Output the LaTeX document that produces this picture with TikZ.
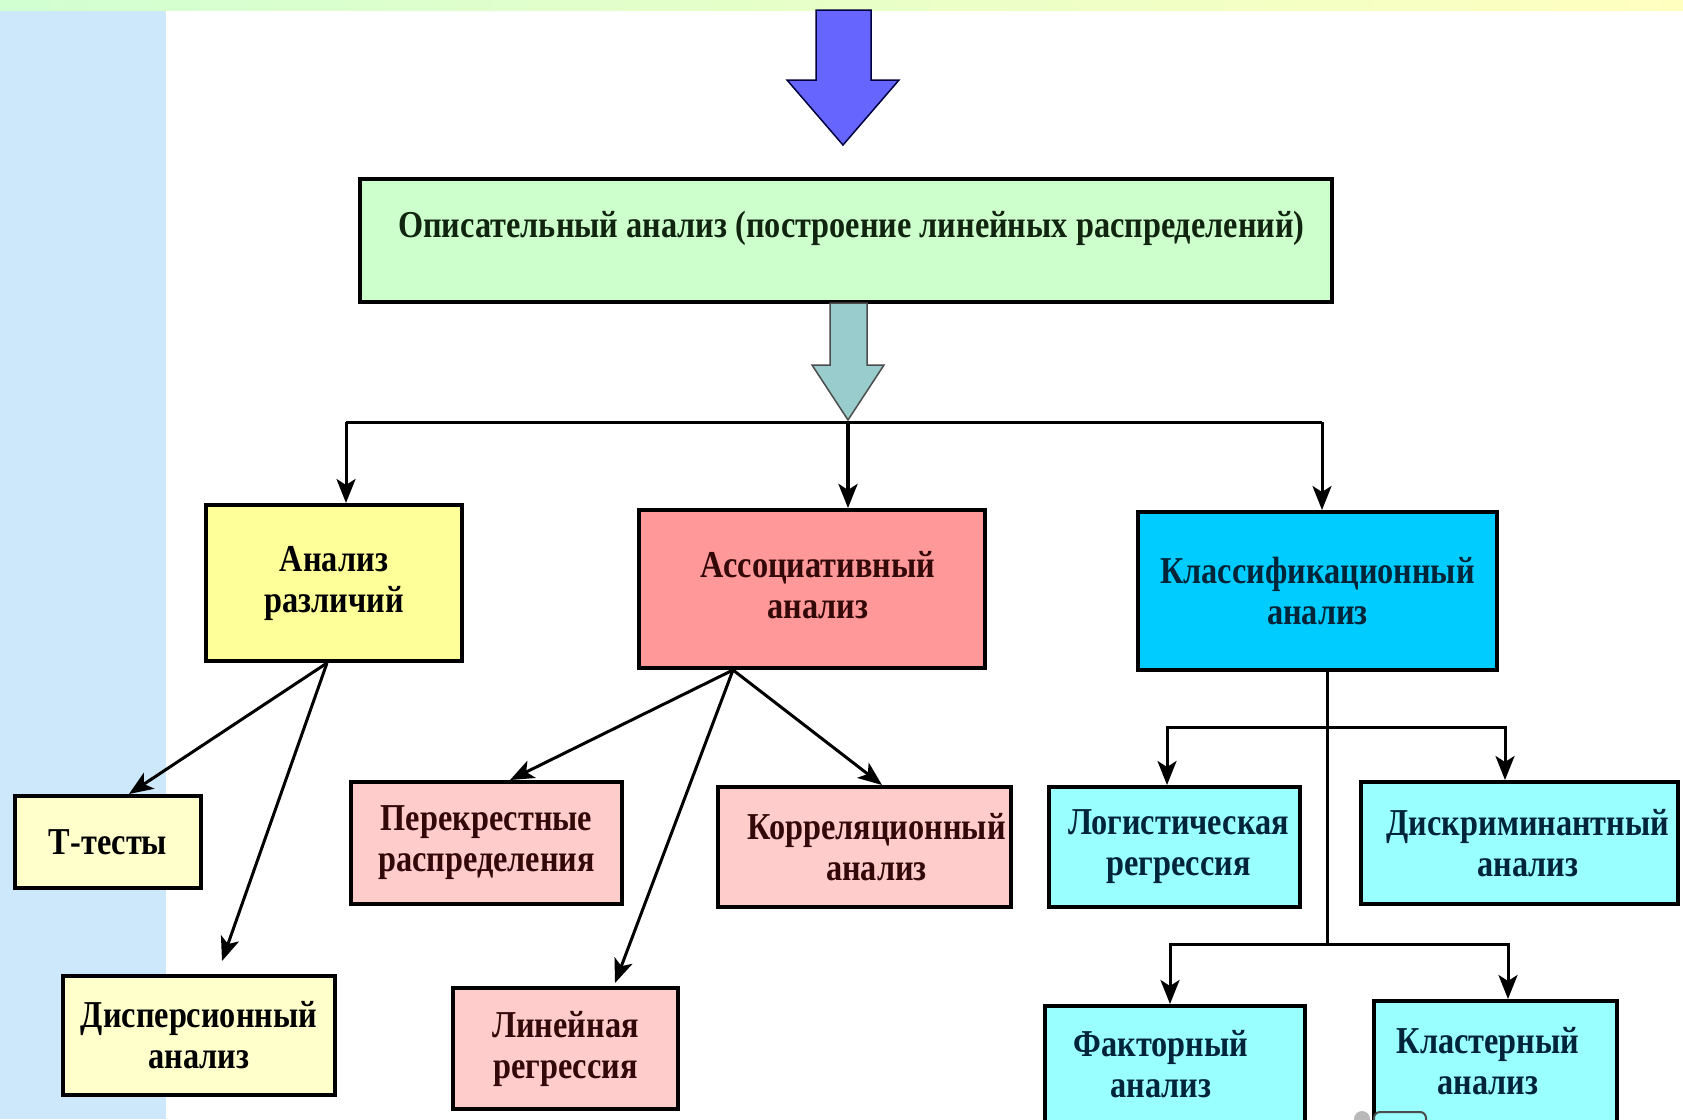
\documentclass[tikz,border=0pt]{standalone}
\usepackage{fontspec}
\setmainfont{Liberation Serif}[FakeStretch=0.85]
\usetikzlibrary{arrows.meta,calc}
\definecolor{bandblue}{HTML}{CCE8FA}
\definecolor{mainfill}{HTML}{CCFFCC}
\definecolor{yel}{HTML}{FFFF99}
\definecolor{redfill}{HTML}{FF9999}
\definecolor{cyfill}{HTML}{00CCFF}
\definecolor{yelpale}{HTML}{FFFFCC}
\definecolor{pinkpale}{HTML}{FFCCCC}
\definecolor{cypale}{HTML}{99FFFF}
\definecolor{bluearr}{HTML}{6666FF}
\definecolor{tealarr}{HTML}{99CCCC}
\definecolor{txtgreen}{HTML}{102410}
\definecolor{txtred}{HTML}{330808}
\definecolor{txtblue}{HTML}{002438}
\tikzset{
  box/.style={draw=black, line width=4pt, inner sep=0pt, align=center,
    font=\bfseries\fontsize{38}{41}\selectfont},
  conn/.style={draw=black, line width=3pt},
  arr/.style={conn, -{Stealth[length=24pt,width=19pt,inset=6pt]}},
}
\begin{document}
\begin{tikzpicture}[x=1pt,y=-1pt]
\useasboundingbox (0,0) rectangle (1683,1119);
\fill[white] (0,0) rectangle (1683,1119);
\fill[bandblue] (0,0) rectangle (166,1119);
\shade[left color=green!18, right color=yellow!25] (0,0) rectangle (1683,10);

% block arrows
\filldraw[fill=bluearr, draw=blue!25!black, line width=1.5pt]
  (816,10) -- (871,10) -- (871,80) -- (899,80) -- (843,145) -- (787,80) -- (816,80) -- cycle;

% boxes
\node[box, fill=mainfill, text=txtgreen, minimum width=972, minimum height=123] (desc) at (846,240.5)
  {\raisebox{12pt}[\height][\depth]{\hspace*{11pt}Описательный анализ (построение линейных распределений)}};

\node[box, fill=yel, minimum width=256, minimum height=156] (diff) at (334,583) {Анализ\\различий};
\node[box, fill=redfill, text=txtred, minimum width=346, minimum height=158] (assoc) at (812,589)
  {\raisebox{4pt}[\height][\depth]{\hspace*{12pt}Ассоциативный}\\\raisebox{4pt}[\height][\depth]{\hspace*{12pt}анализ}};
\node[box, fill=cyfill, text=txtblue, minimum width=359, minimum height=158] (classif) at (1317.5,591) {Классификационный\\анализ};

\node[box, fill=yelpale, minimum width=186, minimum height=92] (ttest) at (108,842) {Т-тесты};
\node[box, fill=yelpale, minimum width=272, minimum height=119] (disp) at (199,1035.5) {Дисперсионный\\анализ};

\node[box, fill=pinkpale, text=txtred, minimum width=271, minimum height=122] (cross) at (486.5,843) {Перекрестные\\распределения};
\node[box, fill=pinkpale, text=txtred, minimum width=293, minimum height=120] (corr) at (864.5,847)
  {\hspace*{24pt}Корреляционный\\\hspace*{24pt}анализ};
\node[box, fill=pinkpale, text=txtred, minimum width=225, minimum height=121] (linreg) at (565.5,1048.5) {Линейная\\регрессия};

\node[box, fill=cypale, text=txtblue, minimum width=251, minimum height=120] (logit) at (1174.5,847)
  {\hspace*{8pt}Логистическая\\\hspace*{8pt}регрессия};
\node[box, fill=cypale, text=txtblue, minimum width=317, minimum height=122] (discr) at (1519.5,843)
  {\hspace*{17pt}Дискриминантный\\\hspace*{17pt}анализ};
\node[box, fill=cypale, text=txtblue, minimum width=260, minimum height=124] (factor) at (1175,1068)
  {\raisebox{4pt}[\height][\depth]{\hspace*{-28pt}Факторный}\\\raisebox{4pt}[\height][\depth]{\hspace*{-28pt}анализ}};
\node[box, fill=cypale, text=txtblue, minimum width=243, minimum height=129] (cluster) at (1495.5,1065.5)
  {\raisebox{4pt}[\height][\depth]{\hspace*{-15pt}Кластерный}\\\raisebox{4pt}[\height][\depth]{\hspace*{-15pt}анализ}};

% small object at the bottom edge
\fill[gray!55] (1362,1119) circle (8pt);
\draw[black!70, line width=2pt, fill=cypale, rounded corners=6pt] (1374,1112) rectangle (1426,1135);

% teal block arrow from the main box
\filldraw[fill=tealarr, draw=black!70, line width=1.5pt]
  (830,303) -- (867,303) -- (867,365) -- (884,365) -- (848,420) -- (812,365) -- (830,365) -- cycle;

% level 1 connectors
\coordinate (hub) at (848,422);
\coordinate (hubL) at (346,422);
\coordinate (hubR) at (1322,422);
\draw[conn] (hubL) -- (hubR);
\draw[arr] (hubL) -- ([xshift=12pt]diff.north);
\draw[arr, line width=4pt] (hub) -- ([xshift=36pt]assoc.north);
\draw[arr] (hubR) -- ([xshift=4.5pt]classif.north);

% differences
\draw[arr] ([xshift=-7pt]diff.south) -- ([xshift=21pt]ttest.north);
\draw[arr] ([xshift=-7pt]diff.south) -- ([xshift=23pt,yshift=13pt]disp.north);

% associative
\draw[arr] ([xshift=-79pt]assoc.south) -- ([xshift=23.5pt]cross.north);
\draw[arr] ([xshift=-79pt]assoc.south) -- ([xshift=17.5pt]corr.north);
\draw[arr] ([xshift=-79pt]assoc.south) -- ([xshift=49.5pt,yshift=3pt]linreg.north);

% classification
\coordinate (cb1) at (1327,727);
\coordinate (cb2) at (1327,944);
\draw[conn] ([xshift=9.5pt]classif.south) -- (cb2);
\draw[arr] (cb1) -| ([xshift=-7.5pt]logit.north);
\draw[arr] (cb1) -| ([xshift=-14.5pt]discr.north);
\draw[arr] (cb2) -| ([xshift=-5pt]factor.north);
\draw[arr] (cb2) -| ([xshift=12.5pt]cluster.north);
\end{tikzpicture}
\end{document}
